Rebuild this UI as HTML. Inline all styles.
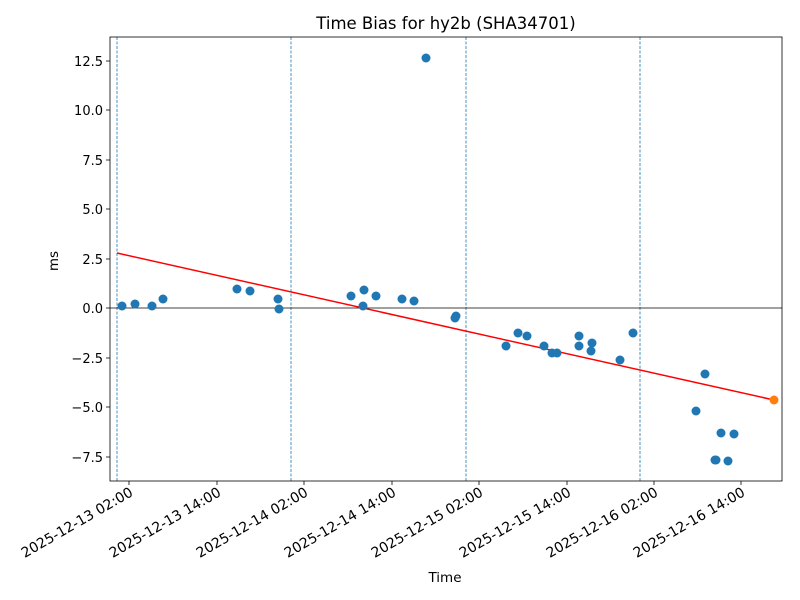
<!DOCTYPE html>
<html><head><meta charset="utf-8"><style>body{margin:0;background:#fff}svg{display:block;font-family:"DejaVu Sans","Liberation Sans",sans-serif}</style></head><body>
<svg width="800" height="600" viewBox="0 0 800 600" xmlns="http://www.w3.org/2000/svg">
<rect width="800" height="600" fill="#fff"/>
<g stroke="#1f77b4" stroke-width="0.8" stroke-dasharray="3,1.5">
<line x1="117" y1="37" x2="117" y2="481"/><line x1="291" y1="37" x2="291" y2="481"/><line x1="466" y1="37" x2="466" y2="481"/><line x1="640" y1="37" x2="640" y2="481"/>
</g>
<line x1="110" y1="308" x2="782" y2="308" stroke="#000" stroke-width="0.8"/>
<line x1="117" y1="253" x2="774" y2="400" stroke="red" stroke-width="1.5"/>
<g fill="#1f77b4">
<circle cx="122" cy="306" r="4.5"/><circle cx="135" cy="304" r="4.5"/><circle cx="152" cy="306" r="4.5"/><circle cx="163" cy="299" r="4.5"/><circle cx="237" cy="289" r="4.5"/><circle cx="250" cy="291" r="4.5"/><circle cx="278" cy="299" r="4.5"/><circle cx="279" cy="309" r="4.5"/><circle cx="351" cy="296" r="4.5"/><circle cx="364" cy="290" r="4.5"/><circle cx="363" cy="306" r="4.5"/><circle cx="376" cy="296" r="4.5"/><circle cx="402" cy="299" r="4.5"/><circle cx="414" cy="301" r="4.5"/><circle cx="426" cy="58" r="4.5"/><circle cx="456" cy="316" r="4.5"/><circle cx="455" cy="318" r="4.5"/><circle cx="506" cy="346" r="4.5"/><circle cx="518" cy="333" r="4.5"/><circle cx="527" cy="336" r="4.5"/><circle cx="544" cy="346" r="4.5"/><circle cx="552" cy="353" r="4.5"/><circle cx="557" cy="353" r="4.5"/><circle cx="579" cy="336" r="4.5"/><circle cx="579" cy="346" r="4.5"/><circle cx="592" cy="343" r="4.5"/><circle cx="591" cy="351" r="4.5"/><circle cx="620" cy="360" r="4.5"/><circle cx="633" cy="333" r="4.5"/><circle cx="696" cy="411" r="4.5"/><circle cx="705" cy="374" r="4.5"/><circle cx="715" cy="460" r="4.5"/><circle cx="716" cy="460" r="4.5"/><circle cx="721" cy="433" r="4.5"/><circle cx="728" cy="461" r="4.5"/><circle cx="734" cy="434" r="4.5"/>
</g>
<circle cx="774" cy="400" r="4.5" fill="#ff7f0e"/>
<rect x="110" y="37" width="672" height="444" fill="none" stroke="#000" stroke-width="0.8"/>
<g stroke="#000" stroke-width="0.8">
<line x1="106" y1="61" x2="110" y2="61"/><line x1="106" y1="110" x2="110" y2="110"/><line x1="106" y1="160" x2="110" y2="160"/><line x1="106" y1="209" x2="110" y2="209"/><line x1="106" y1="259" x2="110" y2="259"/><line x1="106" y1="308" x2="110" y2="308"/><line x1="106" y1="358" x2="110" y2="358"/><line x1="106" y1="407" x2="110" y2="407"/><line x1="106" y1="457" x2="110" y2="457"/>
<line x1="129" y1="481" x2="129" y2="485"/><line x1="217" y1="481" x2="217" y2="485"/><line x1="304" y1="481" x2="304" y2="485"/><line x1="392" y1="481" x2="392" y2="485"/><line x1="479" y1="481" x2="479" y2="485"/><line x1="567" y1="481" x2="567" y2="485"/><line x1="654" y1="481" x2="654" y2="485"/><line x1="741" y1="481" x2="741" y2="485"/>
</g>
<g font-size="13" text-anchor="end" fill="#000">
<text x="103" y="66">12.5</text><text x="103" y="115">10.0</text><text x="103" y="165">7.5</text><text x="103" y="214">5.0</text><text x="103" y="264">2.5</text><text x="103" y="313">0.0</text><text x="103" y="363">−2.5</text><text x="103" y="412">−5.0</text><text x="103" y="462">−7.5</text>
</g>
<g font-size="14" text-anchor="end" fill="#000">
<text transform="translate(134,495) rotate(-30)">2025-12-13 02:00</text>
<text transform="translate(222,495) rotate(-30)">2025-12-13 14:00</text>
<text transform="translate(309,495) rotate(-30)">2025-12-14 02:00</text>
<text transform="translate(397,495) rotate(-30)">2025-12-14 14:00</text>
<text transform="translate(484,495) rotate(-30)">2025-12-15 02:00</text>
<text transform="translate(572,495) rotate(-30)">2025-12-15 14:00</text>
<text transform="translate(659,495) rotate(-30)">2025-12-16 02:00</text>
<text transform="translate(746,495) rotate(-30)">2025-12-16 14:00</text>
</g>
<text x="446" y="29" font-size="16.5" text-anchor="middle">Time Bias for hy2b (SHA34701)</text>
<text x="445" y="582" font-size="13.5" text-anchor="middle">Time</text>
<text transform="translate(58,261) rotate(-90)" font-size="13.5" text-anchor="middle">ms</text>
</svg>
</body></html>
